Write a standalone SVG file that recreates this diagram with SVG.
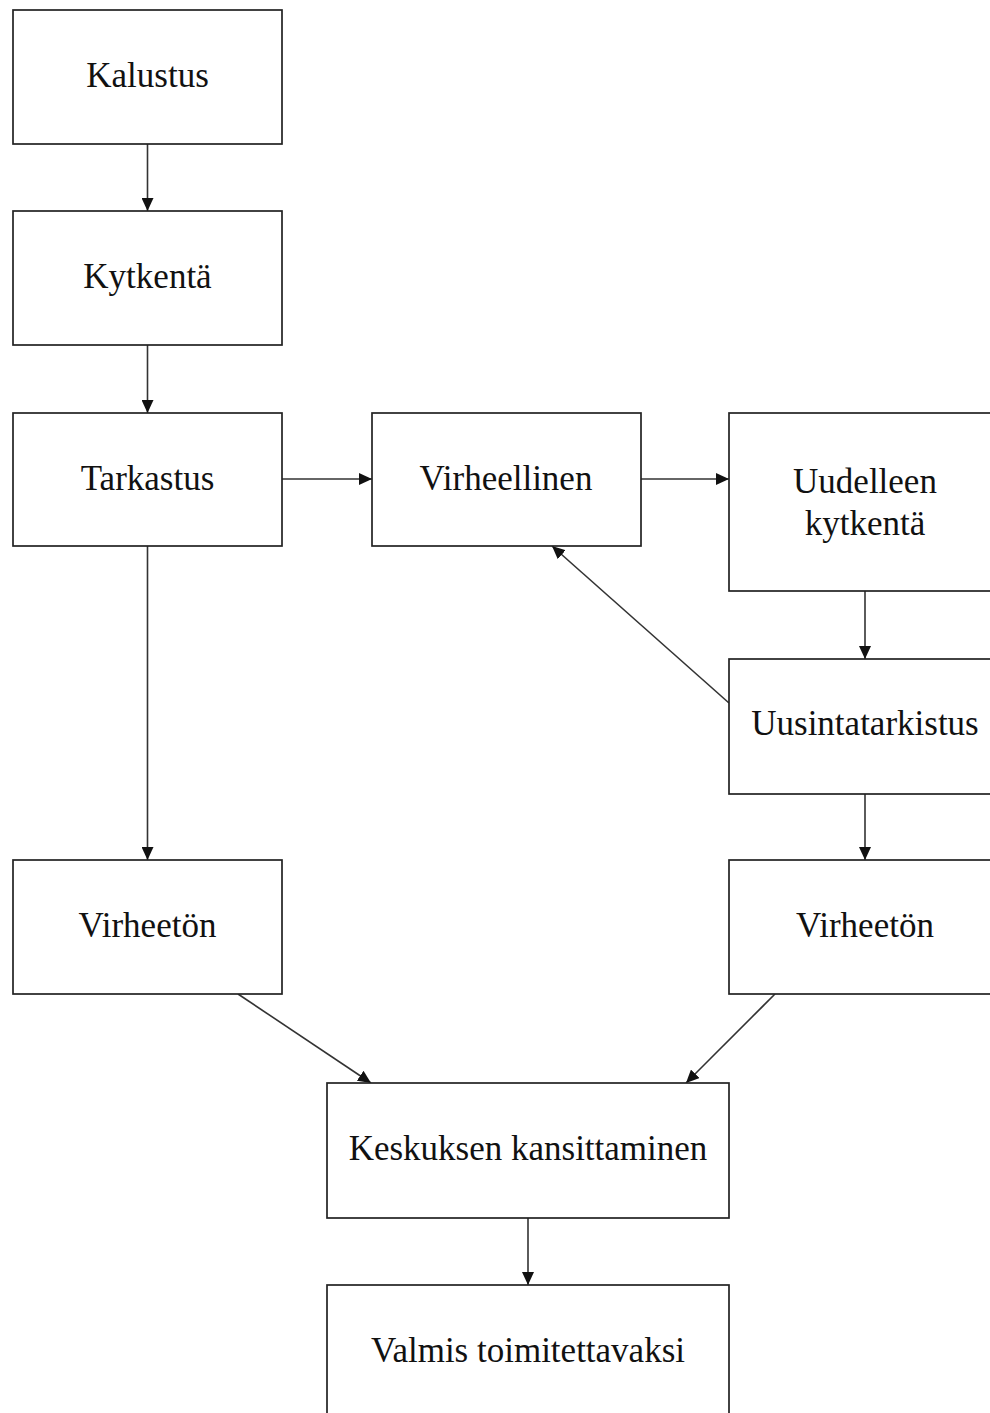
<svg xmlns="http://www.w3.org/2000/svg" width="990" height="1413" viewBox="0 0 990 1413">
<style>
.box{fill:#fff;stroke:#222;stroke-width:1.7}
.lbl{font-family:"Liberation Serif","Times New Roman",serif;font-size:35px;fill:#111;text-anchor:middle}
.edge{stroke:#333;stroke-width:1.6;fill:none;marker-end:url(#ah)}
</style>
<defs>
<marker id="ah" markerUnits="userSpaceOnUse" markerWidth="13" markerHeight="12" refX="13" refY="6" orient="auto">
<path d="M0,0 L13,6 L0,12 z" fill="#111"/>
</marker>
</defs>
<rect width="990" height="1413" fill="#fff"/>
<g id="connectors">
<line class="edge" x1="147.5" y1="144" x2="147.5" y2="211"/>
<line class="edge" x1="147.5" y1="345" x2="147.5" y2="413"/>
<line class="edge" x1="282" y1="479" x2="372" y2="479"/>
<line class="edge" x1="641" y1="479" x2="729" y2="479"/>
<line class="edge" x1="865" y1="591" x2="865" y2="659"/>
<line class="edge" x1="729" y1="703" x2="552" y2="546"/>
<line class="edge" x1="865" y1="794" x2="865" y2="860"/>
<line class="edge" x1="147.5" y1="546" x2="147.5" y2="860"/>
<line class="edge" x1="238" y1="994" x2="371" y2="1083"/>
<line class="edge" x1="775" y1="994" x2="686" y2="1083"/>
<line class="edge" x1="528" y1="1218" x2="528" y2="1285"/>
</g>
<g id="kalustus"><rect class="box" x="13" y="10" width="269" height="134"/><text class="lbl" x="147.5" y="87">Kalustus</text></g>
<g id="kytkenta"><rect class="box" x="13" y="211" width="269" height="134"/><text class="lbl" x="147.5" y="288">Kytkentä</text></g>
<g id="tarkastus"><rect class="box" x="13" y="413" width="269" height="133"/><text class="lbl" x="147.5" y="490">Tarkastus</text></g>
<g id="virheellinen"><rect class="box" x="372" y="413" width="269" height="133"/><text class="lbl" x="506" y="490">Virheellinen</text></g>
<g id="uudelleen"><rect class="box" x="729" y="413" width="272" height="178"/><text class="lbl" x="865" y="493">Uudelleen</text><text class="lbl" x="865" y="535">kytkentä</text></g>
<g id="uusintatarkistus"><rect class="box" x="729" y="659" width="272" height="135"/><text class="lbl" x="865" y="735">Uusintatarkistus</text></g>
<g id="virheeton-left"><rect class="box" x="13" y="860" width="269" height="134"/><text class="lbl" x="147.5" y="937">Virheetön</text></g>
<g id="virheeton-right"><rect class="box" x="729" y="860" width="272" height="134"/><text class="lbl" x="865" y="937">Virheetön</text></g>
<g id="keskuksen"><rect class="box" x="327" y="1083" width="402" height="135"/><text class="lbl" x="528" y="1160">Keskuksen kansittaminen</text></g>
<g id="valmis"><rect class="box" x="327" y="1285" width="402" height="140"/><text class="lbl" x="528" y="1362">Valmis toimitettavaksi</text></g>
</svg>
